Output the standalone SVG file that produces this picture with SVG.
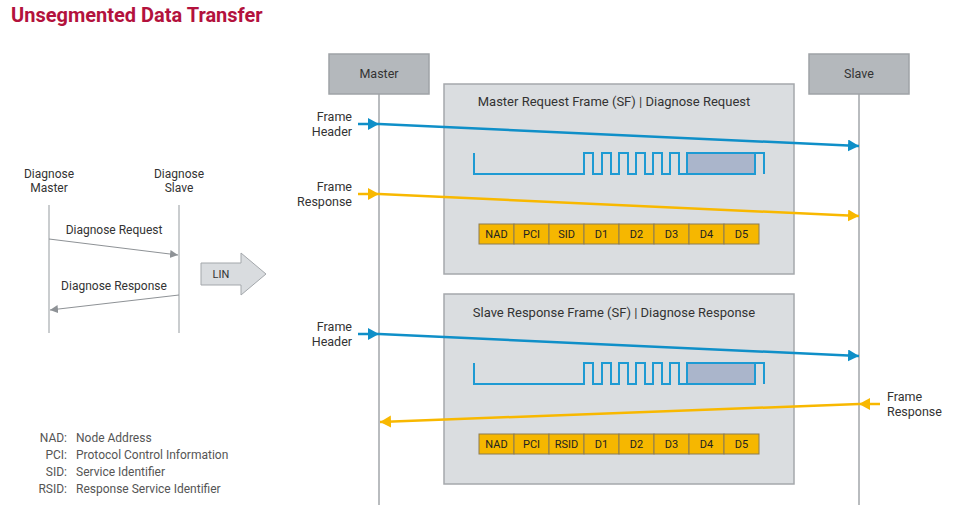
<svg xmlns="http://www.w3.org/2000/svg" width="957" height="511" viewBox="0 0 957 511">
<defs>
<style>
text{font-family:Roboto,"Liberation Sans",sans-serif;fill:#333}
.title{font-size:20px;font-weight:bold;fill:#b3123d}
.lbl{font-size:12.5px}
.sm{font-size:12px}
.leg{font-size:12px;fill:#555}
.ft{font-size:13px;text-anchor:middle}
.cell{font-size:11px;text-anchor:middle;fill:#222}
.life{stroke:#b9bcbf;stroke-width:2;fill:none}
.llife{stroke:#b9bcbf;stroke-width:1.5;fill:none}
.actor{fill:#b4b8bc;stroke:#9fa3a7;stroke-width:1.5}
.frame{fill:#dadde0;stroke:#a5a8ac;stroke-width:1.5}
.wave{fill:none;stroke:#1e9ad3;stroke-width:2}
.cbox{fill:#f6b700;stroke:#8c7c52;stroke-width:1}
.blue{stroke:#0f8fc8;stroke-width:2.5;fill:none}
.yel{stroke:#f8b800;stroke-width:2.5;fill:none}
.garr{stroke:#8e9296;stroke-width:1;fill:none}
</style>
<marker id="mb" markerUnits="userSpaceOnUse" markerWidth="12" markerHeight="13" refX="11" refY="6" orient="auto"><path d="M0,0 L11,6 L0,12 z" fill="#0f8fc8"/></marker>
<marker id="my" markerUnits="userSpaceOnUse" markerWidth="12" markerHeight="13" refX="11" refY="6" orient="auto"><path d="M0,0 L11,6 L0,12 z" fill="#f8b800"/></marker>
<marker id="mg" markerUnits="userSpaceOnUse" markerWidth="9" markerHeight="9" refX="8" refY="4" orient="auto"><path d="M0,0 L8,4 L0,8 z" fill="#8e9296"/></marker>
</defs>

<text class="title" x="11" y="22">Unsegmented Data Transfer</text>

<!-- left overview -->
<g id="diag-master">
<text class="sm" x="49" y="178" text-anchor="middle">Diagnose</text>
<text class="sm" x="49" y="192" text-anchor="middle">Master</text>
<line class="llife" x1="49" y1="205" x2="49" y2="333"/>
</g>
<g id="diag-slave">
<text class="sm" x="179" y="178" text-anchor="middle">Diagnose</text>
<text class="sm" x="179" y="192" text-anchor="middle">Slave</text>
<line class="llife" x1="179" y1="205" x2="179" y2="333"/>
</g>
<g id="lin-arrow">
<path d="M201,263 H241 V253 L266,274 L241,295 V285 H201 z" fill="#d9dcdf" stroke="#a3a7ab" stroke-width="1"/>
<text class="sm" x="221" y="278" text-anchor="middle" style="font-size:11px">LIN</text>
</g>

<g id="legend">
<text class="leg" x="67" y="442" text-anchor="end">NAD:</text>
<text class="leg" x="76" y="442">Node Address</text>
<text class="leg" x="67" y="459" text-anchor="end">PCI:</text>
<text class="leg" x="76" y="459">Protocol Control Information</text>
<text class="leg" x="67" y="476" text-anchor="end">SID:</text>
<text class="leg" x="76" y="476">Service Identifier</text>
<text class="leg" x="67" y="493" text-anchor="end">RSID:</text>
<text class="leg" x="76" y="493">Response Service Identifier</text>
</g>

<!-- actors -->
<g id="master">
<line class="life" x1="379" y1="94" x2="379" y2="505"/>
<rect class="actor" x="329" y="54" width="100" height="40"/>
<text class="lbl" x="379" y="78" text-anchor="middle">Master</text>
</g>
<g id="slave">
<line class="life" x1="859" y1="94" x2="859" y2="505"/>
<rect class="actor" x="809" y="54" width="100" height="40"/>
<text class="lbl" x="859" y="78" text-anchor="middle">Slave</text>
</g>

<!-- frame 1 -->
<g id="frame-request">
<rect class="frame" x="444" y="84" width="350" height="190"/>
<text class="ft" x="614" y="106">Master Request Frame (SF) | Diagnose Request</text>
<rect x="687" y="153" width="68" height="21" fill="#aab5cb" stroke="#1e9ad3" stroke-width="2"/>
<path class="wave" d="M474,153 V174 H584 V153 H593 V174 H602 V153 H611 V174 H619 V153 H628 V174 H636 V153 H645 V174 H653 V153 H662 V174 H670 V153 H679 V174 H687 V153 H764 V174"/>
<g>
<rect class="cbox" x="479" y="224" width="35" height="20"/>
<rect class="cbox" x="514" y="224" width="35" height="20"/>
<rect class="cbox" x="549" y="224" width="35" height="20"/>
<rect class="cbox" x="584" y="224" width="35" height="20"/>
<rect class="cbox" x="619" y="224" width="35" height="20"/>
<rect class="cbox" x="654" y="224" width="35" height="20"/>
<rect class="cbox" x="689" y="224" width="35" height="20"/>
<rect class="cbox" x="724" y="224" width="35" height="20"/>
<text class="cell" x="496.5" y="238">NAD</text>
<text class="cell" x="531.5" y="238">PCI</text>
<text class="cell" x="566.5" y="238">SID</text>
<text class="cell" x="601.5" y="238">D1</text>
<text class="cell" x="636.5" y="238">D2</text>
<text class="cell" x="671.5" y="238">D3</text>
<text class="cell" x="706.5" y="238">D4</text>
<text class="cell" x="741.5" y="238">D5</text>
</g>
</g>

<!-- frame 2 -->
<g id="frame-response">
<rect class="frame" x="444" y="294" width="350" height="190"/>
<text class="ft" x="614" y="317">Slave Response Frame (SF) | Diagnose Response</text>
<rect x="687" y="363" width="68" height="21" fill="#aab5cb" stroke="#1e9ad3" stroke-width="2"/>
<path class="wave" d="M474,363 V384 H584 V363 H593 V384 H602 V363 H611 V384 H619 V363 H628 V384 H636 V363 H645 V384 H653 V363 H662 V384 H670 V363 H679 V384 H687 V363 H764 V384"/>
<g>
<rect class="cbox" x="479" y="434" width="35" height="20"/>
<rect class="cbox" x="514" y="434" width="35" height="20"/>
<rect class="cbox" x="549" y="434" width="35" height="20"/>
<rect class="cbox" x="584" y="434" width="35" height="20"/>
<rect class="cbox" x="619" y="434" width="35" height="20"/>
<rect class="cbox" x="654" y="434" width="35" height="20"/>
<rect class="cbox" x="689" y="434" width="35" height="20"/>
<rect class="cbox" x="724" y="434" width="35" height="20"/>
<text class="cell" x="496.5" y="448">NAD</text>
<text class="cell" x="531.5" y="448">PCI</text>
<text class="cell" x="566.5" y="448">RSID</text>
<text class="cell" x="601.5" y="448">D1</text>
<text class="cell" x="636.5" y="448">D2</text>
<text class="cell" x="671.5" y="448">D3</text>
<text class="cell" x="706.5" y="448">D4</text>
<text class="cell" x="741.5" y="448">D5</text>
</g>
</g>

<!-- labels -->
<g id="labels">
<text class="lbl" x="352" y="121" text-anchor="end">Frame</text>
<text class="lbl" x="352" y="136" text-anchor="end">Header</text>
<text class="lbl" x="352" y="191" text-anchor="end">Frame</text>
<text class="lbl" x="352" y="206" text-anchor="end">Response</text>
<text class="lbl" x="352" y="331" text-anchor="end">Frame</text>
<text class="lbl" x="352" y="346" text-anchor="end">Header</text>
<text class="lbl" x="887" y="401">Frame</text>
<text class="lbl" x="887" y="416">Response</text>
<text class="sm" x="114" y="234" text-anchor="middle">Diagnose Request</text>
<text class="sm" x="114" y="290" text-anchor="middle">Diagnose Response</text>
</g>

<!-- connectors -->
<g id="connectors">
<line class="garr" x1="49" y1="239" x2="178" y2="255" marker-end="url(#mg)"/>
<line class="garr" x1="179" y1="295" x2="50" y2="310" marker-end="url(#mg)"/>
<line class="blue" x1="358" y1="124" x2="379" y2="124" marker-end="url(#mb)"/>
<line class="blue" x1="379" y1="124" x2="859" y2="146" marker-end="url(#mb)"/>
<line class="yel" x1="358" y1="194" x2="379" y2="194" marker-end="url(#my)"/>
<line class="yel" x1="379" y1="194" x2="859" y2="216" marker-end="url(#my)"/>
<line class="blue" x1="358" y1="334" x2="379" y2="334" marker-end="url(#mb)"/>
<line class="blue" x1="379" y1="334" x2="859" y2="356" marker-end="url(#mb)"/>
<line class="yel" x1="880" y1="404" x2="859" y2="404" marker-end="url(#my)"/>
<line class="yel" x1="859" y1="404" x2="380" y2="422" marker-end="url(#my)"/>
</g>
</svg>
